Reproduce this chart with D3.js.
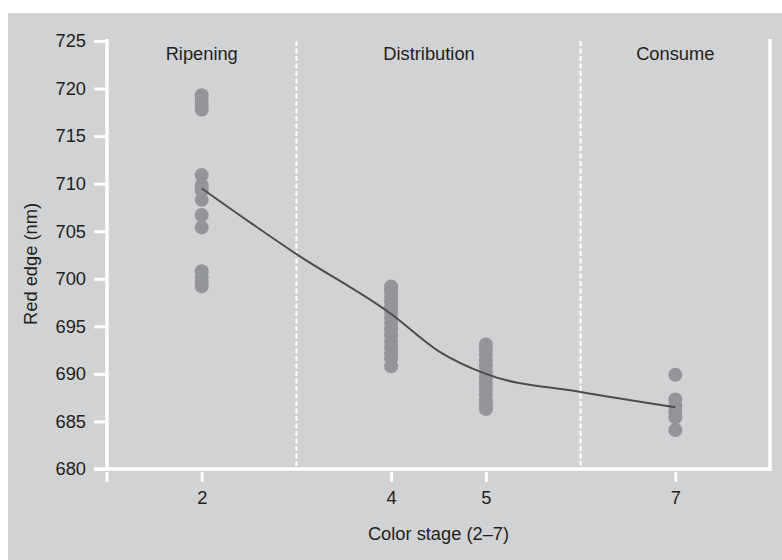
<!DOCTYPE html>
<html>
<head>
<meta charset="utf-8">
<script src="https://cdn.jsdelivr.net/npm/d3@7"></script>
<style>
  body { margin: 0; background: #fff; }
  svg { display: block; }
  text { font-family: "Liberation Sans", Arial, sans-serif; fill: #231f20; }
</style>
</head>
<body>
<svg id="chart" width="782" height="560"></svg>
<script>
// red edge values, one list per colour stage
var stage2Values = [719.3, 718.8, 718.3, 717.8, 710.9, 709.8, 709.3, 708.3, 706.7, 705.4, 700.8, 700.2, 699.6, 699.2];
var stage4Values = [699.2, 698.7, 698.1, 697.6, 697.0, 696.5, 695.9, 695.3, 694.7, 694.1, 693.4, 692.8, 692.2, 691.6, 690.8];
var stage5Values = [693.1, 692.6, 692.0, 691.4, 690.8, 690.2, 689.6, 689.0, 688.4, 687.8, 687.2, 686.7, 686.3];
var stage7Values = [689.9, 687.3, 686.6, 686.0, 685.4, 684.1];
var stages = [2, 4, 5, 7];

// fitted trend line
var trendX = [2, 3, 4, 4.5, 5, 6, 7];
var trendY = [709.5, 702.6, 696.3, 692.4, 690.0, 688.1, 686.5];

// phases
var phaseNames = ["Ripening", "Distribution", "Consume"];
var phaseLabelX = [2, 4.4, 7];
var phaseBreaks = [3, 6];

var yTicks = [680, 685, 690, 695, 700, 705, 710, 715, 720, 725];

var svg = d3.select("#chart");
var fontSize = 18.3;

// panel background
svg.append("rect")
	.attr("x", 8).attr("y", 13)
	.attr("width", 782 - 8).attr("height", 560 - 13)
	.style("fill", "#d1d2d4");

var x = d3.scaleLinear().domain([1, 8]).range([107, 770]);
var y = d3.scaleLinear().domain([680, 725]).range([469, 41]);

// right border of plot box
svg.append("line")
	.attr("x1", x(8)).attr("x2", x(8))
	.attr("y1", 39).attr("y2", 471)
	.style("stroke", "#fff").style("stroke-width", 3.5);

// phase separators
svg.selectAll(".sep")
	.data(phaseBreaks)
	.enter().append("line")
	.attr("class", "sep")
	.attr("x1", function(d){ return x(d); })
	.attr("x2", function(d){ return x(d); })
	.attr("y1", 41).attr("y2", 469)
	.style("stroke", "#fff")
	.style("stroke-width", 2.2)
	.style("stroke-dasharray", "5,2.5");

// y axis
var yAxisG = svg.append("g")
	.attr("transform", "translate(" + x(1) + ",0)")
	.call(d3.axisLeft(y).tickValues(yTicks).tickSize(13).tickPadding(8));
yAxisG.select(".domain").remove();
yAxisG.selectAll(".tick line").style("stroke", "#fff").style("stroke-width", 3);
yAxisG.selectAll(".tick text")
	.style("font-size", fontSize + "px")
	.style("font-family", "Liberation Sans, Arial, sans-serif")
	.style("fill", "#231f20");
svg.append("line")
	.attr("x1", x(1)).attr("x2", x(1))
	.attr("y1", 39).attr("y2", 471)
	.style("stroke", "#fff").style("stroke-width", 3.5);

// x axis
var xAxisG = svg.append("g")
	.attr("transform", "translate(0," + y(680) + ")")
	.call(d3.axisBottom(x).tickValues(stages).tickSize(13).tickPadding(9).tickFormat(d3.format("d")));
xAxisG.select(".domain").remove();
xAxisG.selectAll(".tick line").attr("y1", 3).style("stroke", "#fff").style("stroke-width", 3);
xAxisG.selectAll(".tick text")
	.style("font-size", fontSize + "px")
	.style("font-family", "Liberation Sans, Arial, sans-serif")
	.style("fill", "#231f20");
svg.append("line")
	.attr("x1", 94).attr("x2", x(8) + 1.5)
	.attr("y1", y(680)).attr("y2", y(680))
	.style("stroke", "#fff").style("stroke-width", 3.5);
// stub tick under the corner
svg.append("line")
	.attr("x1", x(1)).attr("x2", x(1))
	.attr("y1", y(680) + 3).attr("y2", y(680) + 13)
	.style("stroke", "#fff").style("stroke-width", 3);

// points
var allStages = [stage2Values, stage4Values, stage5Values, stage7Values];
var points = [];
allStages.forEach(function(vals, i){
	vals.forEach(function(v){ points.push({s: stages[i], v: v}); });
});
svg.append("g").selectAll("circle")
	.data(points)
	.enter().append("circle")
	.attr("cx", function(d){ return x(d.s); })
	.attr("cy", function(d){ return y(d.v); })
	.attr("r", 7)
	.style("fill", "#939598");

// trend line
var line = d3.line()
	.x(function(d){ return x(d[0]); })
	.y(function(d){ return y(d[1]); })
	.curve(d3.curveMonotoneX);
svg.append("path")
	.datum(d3.zip(trendX, trendY))
	.attr("d", line)
	.style("fill", "none")
	.style("stroke", "#4d4d4f")
	.style("stroke-width", 2);

// phase labels
svg.selectAll(".phase")
	.data(phaseNames)
	.enter().append("text")
	.attr("class", "phase")
	.attr("x", function(d, i){ return x(phaseLabelX[i]); })
	.attr("y", 60)
	.attr("text-anchor", "middle")
	.style("font-size", fontSize + "px")
	.text(function(d){ return d; });

// axis titles
svg.append("text")
	.attr("x", (x(1) + x(8)) / 2)
	.attr("y", 540)
	.attr("text-anchor", "middle")
	.style("font-size", fontSize + "px")
	.text("Color stage (2–7)");

svg.append("text")
	.attr("transform", "translate(37,264) rotate(-90)")
	.attr("text-anchor", "middle")
	.style("font-size", fontSize + "px")
	.text("Red edge (nm)");
</script>
</body>
</html>
